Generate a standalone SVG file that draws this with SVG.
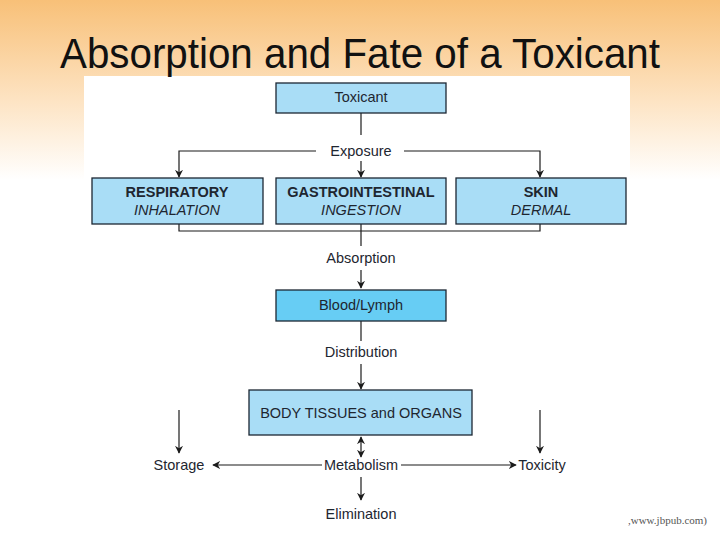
<svg xmlns="http://www.w3.org/2000/svg" width="720" height="540" viewBox="0 0 720 540">
<defs>
<linearGradient id="bg" x1="0" y1="0" x2="0" y2="1">
<stop offset="0" stop-color="#f8c078"/>
<stop offset="0.55" stop-color="#fde3c2"/>
<stop offset="1" stop-color="#ffffff"/>
</linearGradient>
<marker id="ah" viewBox="0 0 10 10" refX="9" refY="5" markerWidth="8" markerHeight="8" markerUnits="userSpaceOnUse" orient="auto-start-reverse">
<path d="M0,0 L10,5 L0,10 L3,5 z" fill="#1b1b1b"/>
</marker>
<style>
.box{fill:#a9ddf6;stroke:#1c2733;stroke-width:1.3}
.dark{fill:#67cdf4}
.t{font-family:"Liberation Sans",Arial,sans-serif;font-size:14.5px;fill:#1e2630;text-anchor:middle}
.b{font-weight:bold}
.i{font-style:italic}
.ln{fill:none;stroke:#1b1b1b;stroke-width:1.2}
.a{marker-end:url(#ah)}
</style>
</defs>
<rect x="0" y="0" width="720" height="180" fill="url(#bg)"/>
<rect x="0" y="180" width="720" height="360" fill="#ffffff"/>
<rect x="84" y="76" width="546" height="464" fill="#ffffff"/>
<text x="360" y="68" font-family="'Liberation Sans',Arial,sans-serif" font-size="42" fill="#111" text-anchor="middle" textLength="600" lengthAdjust="spacingAndGlyphs">Absorption and Fate of a Toxicant</text>

<g id="connectors">
<path class="ln" d="M361,113 V135"/>
<path class="ln a" d="M316,151 H179 V177"/>
<path class="ln a" d="M404,151 H540 V177"/>
<path class="ln a" d="M361,161 V177"/>
<path class="ln" d="M179,224 V231 H540 V224"/>
<path class="ln" d="M361,224 V246"/>
<path class="ln a" d="M361,270 V288"/>
<path class="ln" d="M361,321 V341"/>
<path class="ln a" d="M361,364 V389"/>
<path class="ln a" d="M179,410 V453"/>
<path class="ln a" d="M540,410 V453"/>
<path class="ln a" d="M361,448 V437"/>
<path class="ln a" d="M361,448 V457"/>
<path class="ln a" d="M322,465 H213"/>
<path class="ln a" d="M401,465 H516"/>
<path class="ln a" d="M361,477 V500"/>
</g>

<g id="toxicant"><rect class="box" x="276" y="83" width="170" height="30"/><text class="t" x="361" y="102">Toxicant</text></g>
<g id="exposure"><text class="t" x="361" y="156" font-size="15">Exposure</text></g>
<g id="respiratory"><rect class="box" x="92" y="178" width="171" height="46"/><text class="t b" x="177" y="197">RESPIRATORY</text><text class="t i" x="177" y="215">INHALATION</text></g>
<g id="gastrointestinal"><rect class="box" x="276" y="178" width="170" height="46"/><text class="t b" x="361" y="197">GASTROINTESTINAL</text><text class="t i" x="361" y="215">INGESTION</text></g>
<g id="skin"><rect class="box" x="456" y="178" width="170" height="46"/><text class="t b" x="541" y="197">SKIN</text><text class="t i" x="541" y="215">DERMAL</text></g>
<g id="absorption"><text class="t" x="361" y="263">Absorption</text></g>
<g id="blood"><rect class="box dark" x="276" y="290" width="170" height="31"/><text class="t" x="361" y="310">Blood/Lymph</text></g>
<g id="distribution"><text class="t" x="361" y="357">Distribution</text></g>
<g id="tissues"><rect class="box" x="249" y="390" width="223" height="45"/><text class="t" x="361" y="418" font-size="15">BODY TISSUES and ORGANS</text></g>
<g id="storage"><text class="t" x="179" y="470">Storage</text></g>
<g id="metabolism"><text class="t" x="361" y="470">Metabolism</text></g>
<g id="toxicity"><text class="t" x="542" y="470">Toxicity</text></g>
<g id="elimination"><text class="t" x="361" y="519">Elimination</text></g>
<text x="707" y="524" font-family="'Liberation Serif','Times New Roman',serif" font-size="11" fill="#555" text-anchor="end">,www.jbpub.com)</text>
</svg>
